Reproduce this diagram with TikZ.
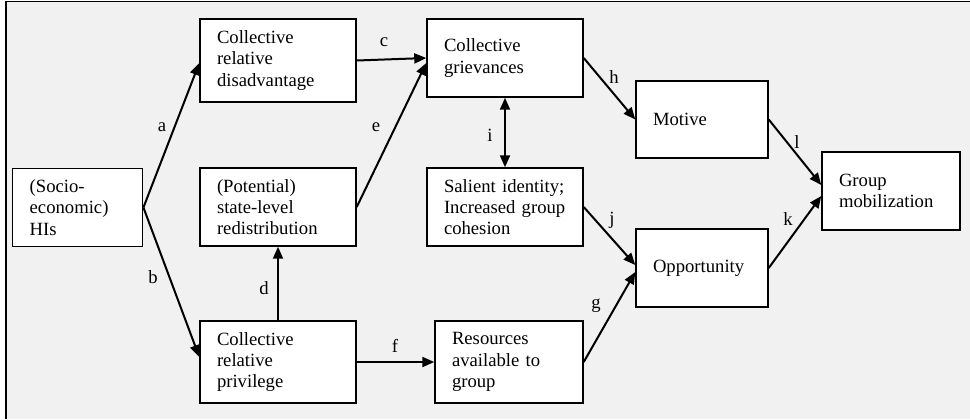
\documentclass[tikz,border=0pt]{standalone}
\usepackage{fontspec}
\setmainfont{Liberation Serif}
\usetikzlibrary{arrows.meta}
\definecolor{panel}{HTML}{F1F1F1}

\tikzset{
  box/.style 2 args={draw, fill=white, line width=1.1pt, align=left, inner xsep=12.75pt, inner ysep=0pt,
    text width=#1, minimum height=#2, font=\fontsize{14}{16}\selectfont},
  arr/.style={line width=1.5pt, -{Triangle[length=9pt,width=7.5pt]}},
  lbl/.style={font=\fontsize{14}{16}\selectfont, inner sep=0pt}
}

\begin{document}
\begin{tikzpicture}[x=0.75pt,y=-0.75pt]
  \useasboundingbox (0,0) rectangle (970,419);
  \fill[panel] (6,1.5) rectangle (970,419);
  \draw[line width=1.3pt] (6,419) -- (6,1.5) -- (970,1.5);

  % boxes
  \node[box={72pt}{58.5pt}] (his) at (77.7,207.5) {(Socio-\\economic)\\HIs};
  \node[box={91.5pt}{62.25pt}] (crd) at (278,60.5) {Collective\\relative\\disadvantage};
  \node[box={91.5pt}{58.5pt}] (slr) at (278,207) {(Potential)\\state-level\\redistribution};
  \node[box={91.5pt}{61.5pt}] (crp) at (278,362) {Collective\\relative\\privilege};
  \node[box={91.5pt}{58.5pt}] (cg) at (505,58) {Collective\\grievances};
  \node[box={91.5pt}{58.5pt}] (si) at (505,207) {Salient identity;\\Increased group\\cohesion};
  \node[box={85.5pt}{61.5pt}] (res) at (509,362) {Resources\\available to\\group};
  \node[box={73.5pt}{57.75pt}] (mot) at (702,119.5) {Motive};
  \node[box={73.5pt}{58.5pt}] (opp) at (702,268) {Opportunity};
  \node[box={78pt}{58.5pt}] (gm) at (891,191) {Group\\mobilization};

  % arrows
  \draw[arr] (his.east) -- ([yshift=-1.9pt]crd.west);
  \draw[arr] (his.east) -- ([yshift=3.75pt]crp.west);
  \draw[arr] (crd.east) -- (cg.west);
  \draw[arr] (slr.east) -- ([yshift=-3.75pt]cg.west);
  \draw[arr] (crp.north) -- (slr.south);
  \draw[arr] (crp.east) -- (res.west);
  \draw[line width=1.5pt, {Triangle[length=9pt,width=7.5pt]}-{Triangle[length=9pt,width=7.5pt]}] (cg.south) -- (si.north);
  \draw[arr] (cg.east) -- (mot.west);
  \draw[arr] (si.east) -- ([yshift=2.25pt]opp.west);
  \draw[arr] (res.east) -- ([yshift=-3pt]opp.west);
  \draw[arr] (mot.east) -- ([yshift=4.5pt]gm.west);
  \draw[arr] (opp.east) -- ([yshift=-3.75pt]gm.west);

  % labels
  \node[lbl] (la) at (162,127) {a};
  \node[lbl] (lb) at (153,277) {b};
  \node[lbl] (lc) at (384,42) {c};
  \node[lbl] (ld) at (264,288) {d};
  \node[lbl] (le) at (376,127) {e};
  \node[lbl] (lf) at (395,346) {f};
  \node[lbl] (lg) at (596,306) {g};
  \node[lbl] (lh) at (614,77) {h};
  \node[lbl] (li) at (490,135) {i};
  \node[lbl] (lj) at (612,220) {j};
  \node[lbl] (lk) at (788,219) {k};
  \node[lbl] (ll) at (797,142) {l};
\end{tikzpicture}
\end{document}
